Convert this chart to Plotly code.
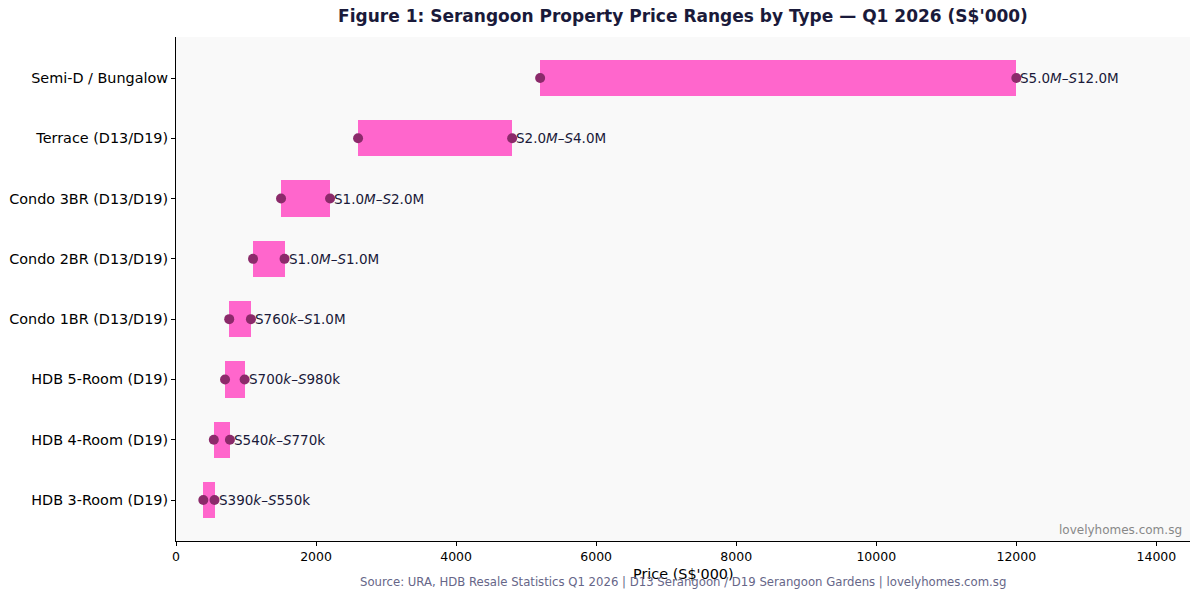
import plotly.graph_objects as go

categories = ["HDB 3-Room (D19)", "HDB 4-Room (D19)", "HDB 5-Room (D19)",
              "Condo 1BR (D13/D19)", "Condo 2BR (D13/D19)", "Condo 3BR (D13/D19)",
              "Terrace (D13/D19)", "Semi-D / Bungalow"]
low = [390, 540, 700, 760, 1100, 1500, 2600, 5200]
high = [550, 770, 980, 1070, 1550, 2200, 4800, 12000]
labels = ["S390<i>k–S</i>550k", "S540<i>k–S</i>770k", "S700<i>k–S</i>980k",
          "S760<i>k–S</i>1.0M", "S1.0<i>M–S</i>1.0M", "S1.0<i>M–S</i>2.0M",
          "S2.0<i>M–S</i>4.0M", "S5.0<i>M–S</i>12.0M"]
xticks = [0, 2000, 4000, 6000, 8000, 10000, 12000, 14000]

FONT = "DejaVu Sans"
BAR = "#FF66CC"
DOT = "#8B2A6A"
INK = "#1a1a3a"

fig = go.Figure()
fig.add_trace(go.Bar(
    y=categories, x=[h - l for h, l in zip(high, low)], base=low,
    orientation="h", width=0.6, marker=dict(color=BAR, line=dict(width=0)),
    showlegend=False, hoverinfo="skip"))
fig.add_trace(go.Scatter(
    y=categories + categories, x=low + high, mode="markers",
    marker=dict(color=DOT, size=10, line=dict(width=0)),
    showlegend=False, hoverinfo="skip"))

for cat, h, lab in zip(categories, high, labels):
    fig.add_annotation(x=h, y=cat, text=lab, xanchor="left", yanchor="middle",
                       xshift=2, showarrow=False,
                       font=dict(family=FONT, size=13.5, color=INK))

fig.update_layout(
    width=1200, height=598,
    margin=dict(l=176, r=10, t=37, b=57),
    paper_bgcolor="white", plot_bgcolor="#f9f9f9",
    font=dict(family=FONT, color="black"),
    title=dict(text="<b>Figure 1: Serangoon Property Price Ranges by Type — Q1 2026 (S$'000)</b>",
               x=(176 + 1190) / 2 / 1200, xanchor="center", y=1 - 16 / 598, yanchor="middle",
               font=dict(family=FONT, size=17, color=INK)),
    xaxis=dict(range=[0, 14480], tickvals=xticks, tickformat="d",
               showgrid=False, zeroline=False, showline=True, linecolor="black", linewidth=1,
               ticks="outside", ticklen=4, tickcolor="black",
               tickfont=dict(family=FONT, size=12.5, color="black")),
    yaxis=dict(categoryorder="array", categoryarray=categories, range=[-0.68, 7.68],
               showgrid=False, zeroline=False, showline=True, linecolor="black", linewidth=1,
               ticks="outside", ticklen=4, tickcolor="black",
               tickfont=dict(family=FONT, size=14.4, color="black")),
    bargap=0,
)

fig.add_annotation(text="Price (S$'000)", xref="paper", yref="paper", x=0.5, y=-33 / 504,
                   yanchor="middle", showarrow=False,
                   font=dict(family=FONT, size=14.4, color="black"))
fig.add_annotation(text="Source: URA, HDB Resale Statistics Q1 2026 | D13 Serangoon / D19 Serangoon Gardens | lovelyhomes.com.sg",
                   xref="paper", yref="paper", x=0.5, y=-41 / 504, yanchor="middle", showarrow=False,
                   font=dict(family=FONT, size=11.7, color="#666688"))
fig.add_annotation(text="lovelyhomes.com.sg", xref="paper", yref="paper", x=0.994, y=0.004,
                   xanchor="right", yanchor="bottom", showarrow=False,
                   font=dict(family=FONT, size=12, color="#888888"))

fig.write_html("out.html")
